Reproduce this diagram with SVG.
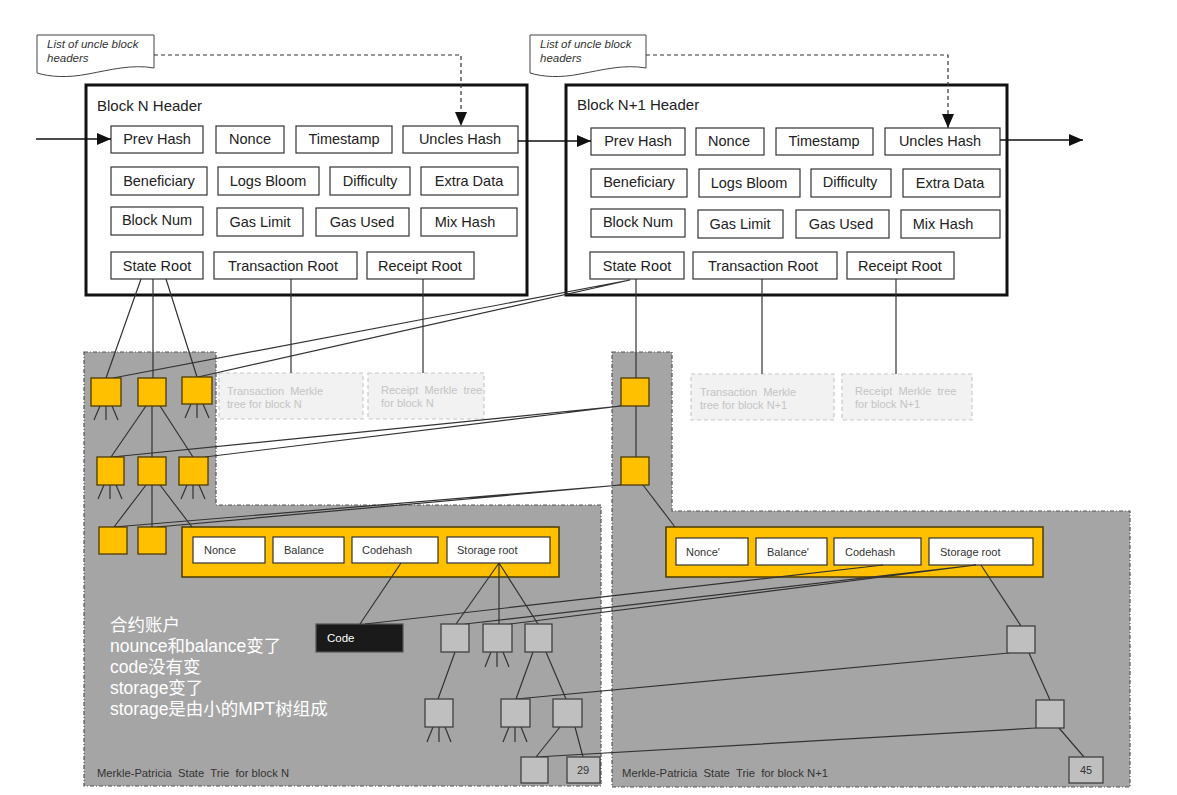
<svg xmlns="http://www.w3.org/2000/svg" width="1177" height="795" viewBox="0 0 1177 795">
<defs>
<style>
.hdr{fill:#fff;stroke:#111;stroke-width:3}
.fld{fill:#fff;stroke:#333;stroke-width:1.2}
.ft{font-family:"Liberation Sans",Arial,sans-serif;font-size:14.5px;fill:#222;text-anchor:middle}
.ttl{font-family:"Liberation Sans",Arial,sans-serif;font-size:15px;fill:#222}
.note{fill:#fff;stroke:#444;stroke-width:1}
.nt{font-family:"Liberation Sans",Arial,sans-serif;font-size:11.5px;font-style:italic;fill:#333}
.region{fill:#a5a5a5;stroke:#555;stroke-width:1.2;stroke-dasharray:4 2 1 2}
.mk{fill:#f2f2f2;stroke:#c8c8c8;stroke-width:1.2;stroke-dasharray:4 3}
.mkt{font-family:"Liberation Sans",Arial,sans-serif;font-size:11px;fill:#c4c4c4}
.yel{fill:#ffc000;stroke:#4d3b00;stroke-width:1.3}
.gry{fill:#bfbfbf;stroke:#404040;stroke-width:1.3}
.acct{fill:#ffc000;stroke:#4a3a00;stroke-width:1.5}
.af{fill:#fff;stroke:#333;stroke-width:1.2}
.aft{font-family:"Liberation Sans",Arial,sans-serif;font-size:11px;fill:#333}
.code{fill:#1a1a1a;stroke:#555;stroke-width:1.2}
.codet{font-family:"Liberation Sans",Arial,sans-serif;font-size:11.5px;fill:#fff}
.foot{font-family:"Liberation Sans",Arial,sans-serif;font-size:11px;fill:#333}
.num{font-family:"Liberation Sans",Arial,sans-serif;font-size:11px;fill:#333;text-anchor:middle}
.ln{stroke:#333;stroke-width:1.2;fill:none}
.arr{stroke:#111;stroke-width:1.3;fill:none}
.dash{stroke:#333;stroke-width:1.2;fill:none;stroke-dasharray:4 3}
.cn{font-family:"Liberation Sans","Noto Sans CJK SC",sans-serif;font-size:17.5px;fill:#fff}
</style>
<marker id="ah" viewBox="0 0 14 14" refX="14" refY="7" markerWidth="14" markerHeight="14" markerUnits="userSpaceOnUse" orient="auto">
<path d="M0,1 L14,7 L0,13 Z" fill="#111"/>
</marker>
</defs>

<!-- gray regions -->
<g id="region-N">
<path class="region" d="M84,352 H216 V505 H601 V786 H84 Z"/>
<text class="foot" x="97" y="777" xml:space="preserve" textLength="192" lengthAdjust="spacingAndGlyphs">Merkle-Patricia  State  Trie  for block N</text>
</g>
<g id="region-N1">
<path class="region" d="M612,352 H672 V511 H1130 V787 H612 Z"/>
<text class="foot" x="622" y="777" xml:space="preserve" textLength="206" lengthAdjust="spacingAndGlyphs">Merkle-Patricia  State  Trie  for block N+1</text>
</g>

<!-- uncle notes -->
<g id="note-N">
<path class="note" d="M37,35 H154 V68 C132,64 110,70 88,74 C68,78 50,77 37,73 Z"/>
<text class="nt" x="47" y="48">List of uncle block</text>
<text class="nt" x="47" y="62">headers</text>
</g>
<g id="note-N1">
<path class="note" d="M530,35 H646 V68 C624,64 602,70 580,74 C560,78 543,77 530,73 Z"/>
<text class="nt" x="540" y="48">List of uncle block</text>
<text class="nt" x="540" y="62">headers</text>
</g>

<!-- header N -->
<g id="header-N">
<rect class="hdr" x="86" y="85" width="441" height="210"/>
<text class="ttl" x="97" y="111">Block N Header</text>
<rect class="fld" x="111" y="126" width="92" height="27"/><text class="ft" x="157" y="144">Prev Hash</text>
<rect class="fld" x="216" y="126" width="68" height="27"/><text class="ft" x="250" y="144">Nonce</text>
<rect class="fld" x="296" y="126" width="96" height="27"/><text class="ft" x="344" y="144">Timestamp</text>
<rect class="fld" x="403" y="126" width="115" height="27"/><text class="ft" x="460" y="144">Uncles Hash</text>
<rect class="fld" x="111" y="167" width="96" height="28"/><text class="ft" x="159" y="186">Beneficiary</text>
<rect class="fld" x="218" y="167" width="101" height="28"/><text class="ft" x="268" y="186">Logs Bloom</text>
<rect class="fld" x="330" y="167" width="80" height="28"/><text class="ft" x="370" y="186">Difficulty</text>
<rect class="fld" x="421" y="167" width="97" height="28"/><text class="ft" x="469" y="186">Extra Data</text>
<rect class="fld" x="111" y="207" width="92" height="28"/><text class="ft" x="157" y="225">Block Num</text>
<rect class="fld" x="217" y="208" width="86" height="28"/><text class="ft" x="260" y="227">Gas Limit</text>
<rect class="fld" x="316" y="208" width="93" height="28"/><text class="ft" x="362" y="227">Gas Used</text>
<rect class="fld" x="421" y="208" width="96" height="28"/><text class="ft" x="465" y="227">Mix Hash</text>
<rect class="fld" x="111" y="252" width="92" height="27"/><text class="ft" x="157" y="271">State Root</text>
<rect class="fld" x="214" y="252" width="143" height="27"/><text class="ft" x="283" y="271">Transaction Root</text>
<rect class="fld" x="367" y="252" width="107" height="27"/><text class="ft" x="420" y="271">Receipt Root</text>
</g>

<!-- header N+1 -->
<g id="header-N1">
<rect class="hdr" x="566" y="85" width="441" height="210"/>
<text class="ttl" x="577" y="110">Block N+1 Header</text>
<rect class="fld" x="591" y="128" width="94" height="27"/><text class="ft" x="638" y="146">Prev Hash</text>
<rect class="fld" x="696" y="128" width="68" height="27"/><text class="ft" x="729" y="146">Nonce</text>
<rect class="fld" x="776" y="128" width="97" height="27"/><text class="ft" x="824" y="146">Timestamp</text>
<rect class="fld" x="885" y="128" width="115" height="27"/><text class="ft" x="940" y="146">Uncles Hash</text>
<rect class="fld" x="591" y="169" width="96" height="28"/><text class="ft" x="639" y="187">Beneficiary</text>
<rect class="fld" x="699" y="169" width="101" height="28"/><text class="ft" x="749" y="188">Logs Bloom</text>
<rect class="fld" x="811" y="169" width="80" height="28"/><text class="ft" x="850" y="187">Difficulty</text>
<rect class="fld" x="903" y="169" width="97" height="28"/><text class="ft" x="950" y="188">Extra Data</text>
<rect class="fld" x="591" y="209" width="94" height="28"/><text class="ft" x="638" y="227">Block Num</text>
<rect class="fld" x="698" y="210" width="85" height="28"/><text class="ft" x="740" y="229">Gas Limit</text>
<rect class="fld" x="796" y="210" width="93" height="28"/><text class="ft" x="841" y="229">Gas Used</text>
<rect class="fld" x="901" y="210" width="99" height="28"/><text class="ft" x="943" y="229">Mix Hash</text>
<rect class="fld" x="590" y="252" width="94" height="27"/><text class="ft" x="637" y="271">State Root</text>
<rect class="fld" x="693" y="252" width="144" height="27"/><text class="ft" x="763" y="271">Transaction Root</text>
<rect class="fld" x="847" y="252" width="107" height="27"/><text class="ft" x="900" y="271">Receipt Root</text>
</g>

<!-- merkle placeholders -->
<g id="tx-merkle-N">
<rect class="mk" x="219" y="373" width="144" height="46"/>
<text class="mkt" x="227" y="395" xml:space="preserve">Transaction  Merkle</text>
<text class="mkt" x="227" y="408">tree for block N</text>
</g>
<g id="rc-merkle-N">
<rect class="mk" x="368" y="373" width="116" height="46"/>
<text class="mkt" x="381" y="394" xml:space="preserve">Receipt  Merkle  tree</text>
<text class="mkt" x="381" y="407">for block N</text>
</g>
<g id="tx-merkle-N1">
<rect class="mk" x="691" y="374" width="143" height="46"/>
<text class="mkt" x="700" y="396" xml:space="preserve">Transaction  Merkle</text>
<text class="mkt" x="700" y="409">tree for block N+1</text>
</g>
<g id="rc-merkle-N1">
<rect class="mk" x="842" y="374" width="130" height="46"/>
<text class="mkt" x="855" y="395" xml:space="preserve">Receipt  Merkle  tree</text>
<text class="mkt" x="855" y="408">for block N+1</text>
</g>

<!-- account boxes -->
<g id="account-N">
<rect class="acct" x="182" y="527" width="377" height="50"/>
<rect class="af" x="193" y="537" width="72" height="26"/><text class="aft" x="204" y="554">Nonce</text>
<rect class="af" x="273" y="537" width="71" height="26"/><text class="aft" x="284" y="554">Balance</text>
<rect class="af" x="352" y="537" width="86" height="26"/><text class="aft" x="362" y="554">Codehash</text>
<rect class="af" x="447" y="537" width="103" height="26"/><text class="aft" x="457" y="554">Storage root</text>
</g>
<g id="account-N1">
<rect class="acct" x="666" y="527" width="377" height="50"/>
<rect class="af" x="676" y="538" width="72" height="27"/><text class="aft" x="686" y="556">Nonce'</text>
<rect class="af" x="756" y="538" width="71" height="27"/><text class="aft" x="767" y="556">Balance'</text>
<rect class="af" x="834" y="538" width="87" height="27"/><text class="aft" x="845" y="556">Codehash</text>
<rect class="af" x="929" y="538" width="104" height="27"/><text class="aft" x="940" y="556">Storage root</text>
</g>

<g id="code"><rect class="code" x="316" y="624" width="87" height="28"/><text class="codet" x="327" y="642">Code</text></g>

<!-- connectors -->
<g id="connectors">
<path class="arr" d="M36,139 H111" marker-end="url(#ah)"/>
<path class="arr" d="M518,141 H591" marker-end="url(#ah)"/>
<path class="arr" d="M1000,140 H1083" marker-end="url(#ah)"/>
<path class="dash" d="M154,55 H461 V126" marker-end="url(#ah)"/>
<path class="dash" d="M646,55 H948 V128" marker-end="url(#ah)"/>
<path class="ln" d="M141,279 L106,378 M153,279 V378 M166,279 L197,377"/>
<path class="ln" d="M291,279 V373 M423,279 V373 M762,279 V374 M896,279 V374"/>
<path class="ln" d="M636,279 V378 M636,406 V457"/>
<path class="ln" d="M630,280 L113,378 M630,280 L198,377"/>
<path class="ln" d="M146,406 L111,457 M152,406 V457 M160,406 L193,457"/>
<path class="ln" d="M146,485 L114,527 M152,485 V527 M160,485 L192,527"/>
<path class="ln" d="M621,406 L112,457 M621,406 L205,457"/>
<path class="ln" d="M621,485 L114,527 M621,485 L157,527"/>
<path class="ln" d="M643,485 L675,527"/>
<path class="ln" d="M401,563 L360,624"/>
<path class="ln" d="M499,563 L456,624 M499,563 V624 M499,563 L538,624"/>
<path class="ln" d="M455,652 L438,699 M533,652 L516,699 M546,652 L566,699 M560,727 L536,757 M575,727 L583,757"/>
<path class="ln" d="M883,565 L365,624 M976,565 L465,624 M976,565 L510,624"/>
<path class="ln" d="M981,565 L1021,626 M1029,653 L1050,700 M1059,728 L1084,757"/>
<path class="ln" d="M1009,653 L516,699 M1036,728 L536,757"/>
<path class="ln" d="M100,406 L94,420 M106,406 V420 M112,406 L118,420"/>
<path class="ln" d="M191,404 L185,418 M197,404 V418 M203,404 L209,418"/>
<path class="ln" d="M104,485 L98,499 M110,485 V499 M116,485 L122,499"/>
<path class="ln" d="M187,485 L181,499 M193,485 V499 M199,485 L205,499"/>
<path class="ln" d="M491,652 L485,667 M497,652 V667 M503,652 L509,667"/>
<path class="ln" d="M433,727 L427,742 M439,727 V742 M445,727 L451,742"/>
<path class="ln" d="M509,727 L503,742 M515,727 V742 M521,727 L527,742"/>
</g>

<!-- trie nodes N -->
<g id="n-l1-a"><rect class="yel" x="91" y="378" width="30" height="28"/></g>
<g id="n-l1-b"><rect class="yel" x="138" y="378" width="28" height="28"/></g>
<g id="n-l1-c"><rect class="yel" x="182" y="377" width="30" height="27"/></g>
<g id="n-l2-a"><rect class="yel" x="97" y="457" width="27" height="28"/></g>
<g id="n-l2-b"><rect class="yel" x="138" y="457" width="28" height="28"/></g>
<g id="n-l2-c"><rect class="yel" x="179" y="457" width="29" height="28"/></g>
<g id="n-l3-a"><rect class="yel" x="99" y="527" width="28" height="27"/></g>
<g id="n-l3-b"><rect class="yel" x="138" y="527" width="28" height="27"/></g>
<!-- trie nodes N+1 -->
<g id="n1-l1"><rect class="yel" x="621" y="378" width="28" height="28"/></g>
<g id="n1-l2"><rect class="yel" x="621" y="457" width="28" height="28"/></g>
<!-- storage N -->
<g id="s-a"><rect class="gry" x="441" y="624" width="28" height="28"/></g>
<g id="s-b"><rect class="gry" x="483" y="624" width="29" height="28"/></g>
<g id="s-c"><rect class="gry" x="525" y="624" width="27" height="28"/></g>
<g id="s-d"><rect class="gry" x="425" y="699" width="28" height="28"/></g>
<g id="s-e"><rect class="gry" x="501" y="699" width="29" height="28"/></g>
<g id="s-f"><rect class="gry" x="553" y="699" width="29" height="28"/></g>
<g id="s-g"><rect class="gry" x="521" y="757" width="27" height="26"/></g>
<g id="s-h"><rect class="gry" x="567" y="757" width="33" height="26"/><text class="num" x="583" y="774">29</text></g>
<!-- storage N+1 -->
<g id="s1-i"><rect class="gry" x="1007" y="626" width="28" height="27"/></g>
<g id="s1-j"><rect class="gry" x="1036" y="700" width="28" height="28"/></g>
<g id="s1-k"><rect class="gry" x="1069" y="757" width="34" height="26"/><text class="num" x="1086" y="774">45</text></g>

<!-- annotation -->
<g id="annotation">
<text class="cn" x="110" y="631">合约账户</text>
<text class="cn" x="110" y="652">nounce和balance变了</text>
<text class="cn" x="110" y="673">code没有变</text>
<text class="cn" x="110" y="694">storage变了</text>
<text class="cn" x="110" y="715">storage是由小的MPT树组成</text>
</g>
</svg>
